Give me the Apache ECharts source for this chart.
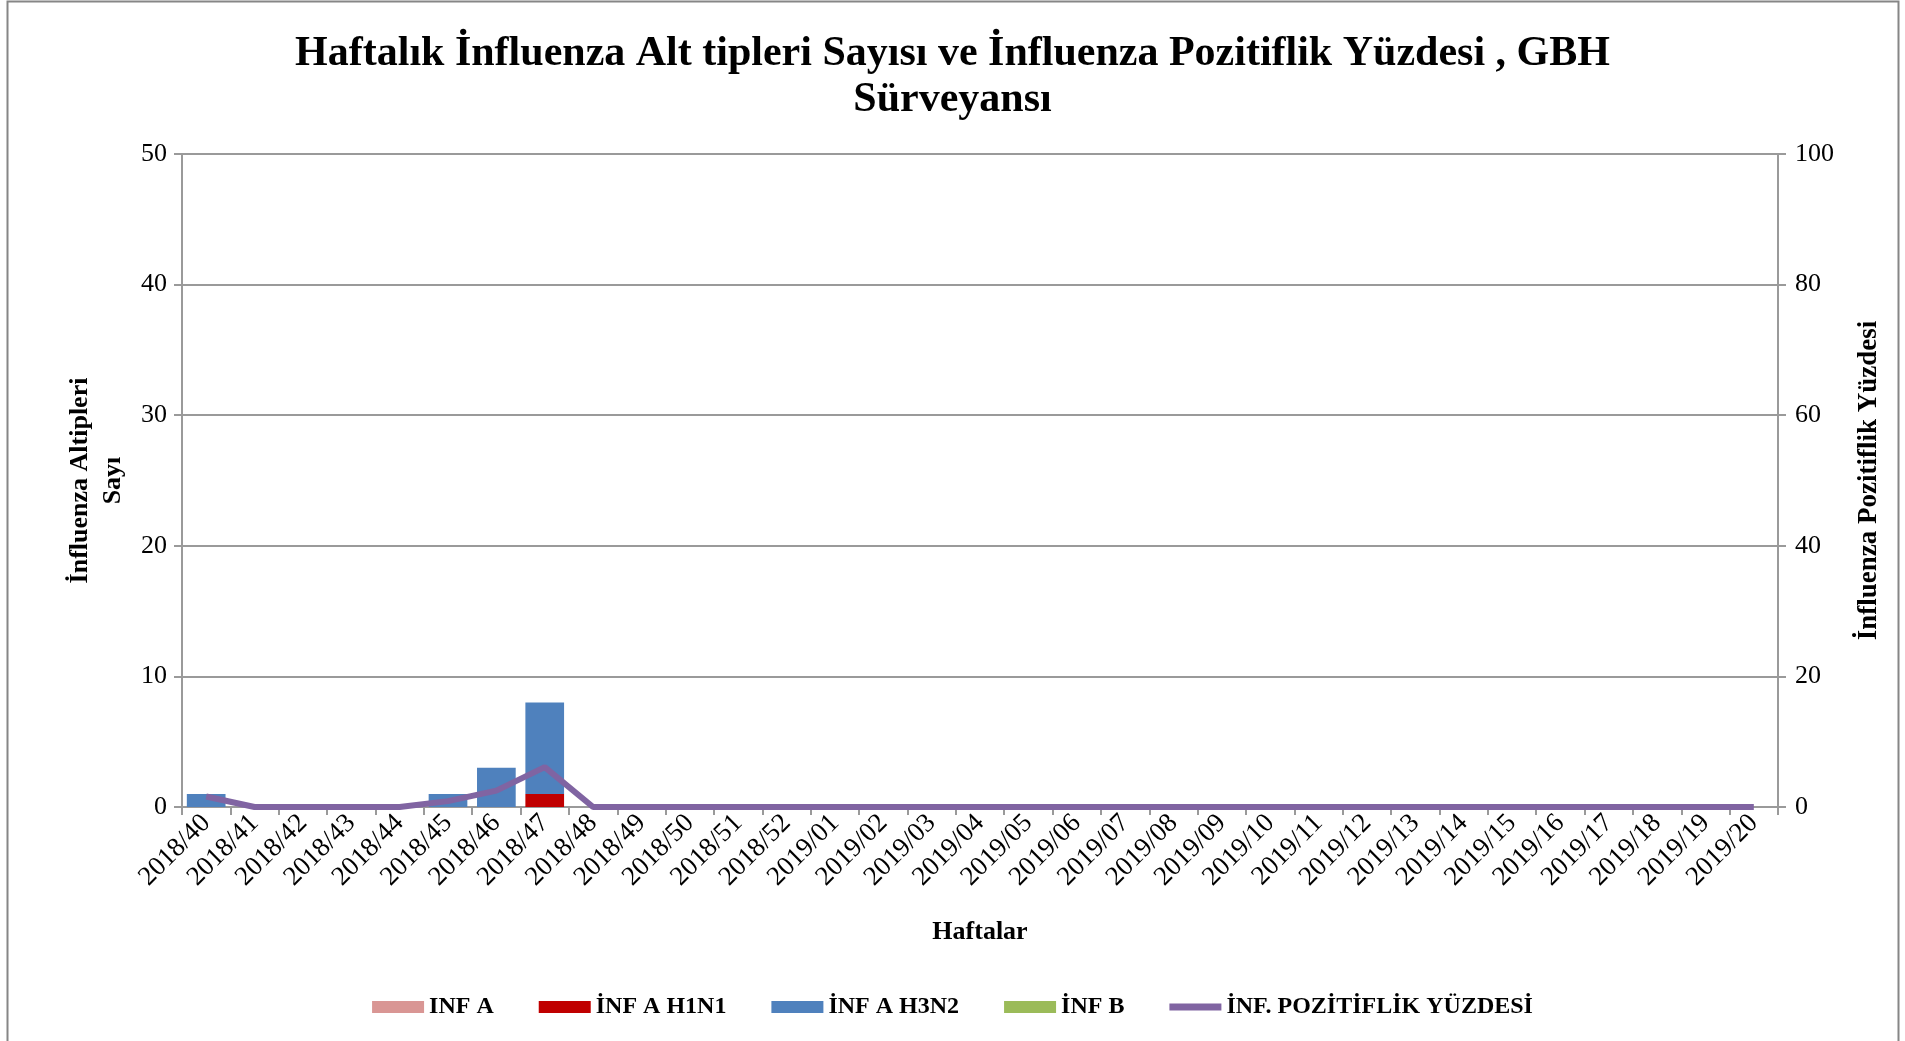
<!DOCTYPE html>
<html>
<head>
<meta charset="utf-8">
<script src="https://cdn.jsdelivr.net/npm/echarts@6/dist/echarts.min.js"></script>
<style>
html,body{margin:0;padding:0;background:#fff;}
#chart{width:1905px;height:1041px;}
</style>
</head>
<body>
<div id="chart"></div>
<script>
var weeks = ['2018/40','2018/41','2018/42','2018/43','2018/44','2018/45','2018/46','2018/47','2018/48','2018/49','2018/50','2018/51','2018/52',
  '2019/01','2019/02','2019/03','2019/04','2019/05','2019/06','2019/07','2019/08','2019/09','2019/10','2019/11','2019/12','2019/13','2019/14','2019/15','2019/16','2019/17','2019/18','2019/19','2019/20'];
var infA   = [0,0,0,0,0,0,0,0,0,0,0,0,0, 0,0,0,0,0,0,0,0,0,0,0,0,0,0,0,0,0,0,0,0];
var infH1N1= [0,0,0,0,0,0,0,1,0,0,0,0,0, 0,0,0,0,0,0,0,0,0,0,0,0,0,0,0,0,0,0,0,0];
var infH3N2= [1,0,0,0,0,1,3,7,0,0,0,0,0, 0,0,0,0,0,0,0,0,0,0,0,0,0,0,0,0,0,0,0,0];
var infB   = [0,0,0,0,0,0,0,0,0,0,0,0,0, 0,0,0,0,0,0,0,0,0,0,0,0,0,0,0,0,0,0,0,0];
var positivity = [1.6,0,0,0,0,0.9,2.5,6.1,0,0,0,0,0, 0,0,0,0,0,0,0,0,0,0,0,0,0,0,0,0,0,0,0,0];

var FONT = "'Liberation Serif','Times New Roman',serif";
var axisGray = '#9a9a9a';

var chart = echarts.init(document.getElementById('chart'));
function barSeries(name, data, color) {
  return {
    name: name, type: 'bar', stack: 'sub', data: data,
    barCategoryGap: '20%',
    itemStyle: { color: color },
    emphasis: { disabled: true }
  };
}
chart.setOption({
  animation: false,
  backgroundColor: '#fff',
  textStyle: { fontFamily: FONT, color: '#000' },
  graphic: [{
    type: 'rect', silent: true,
    shape: { x: 7.5, y: 1.5, width: 1891, height: 1100 },
    style: { fill: 'none', stroke: '#868686', lineWidth: 2 }
  }],
  title: {
    text: 'Haftalık İnfluenza Alt tipleri Sayısı ve İnfluenza Pozitiflik Yüzdesi , GBH\nSürveyansı',
    left: 'center', top: 26,
    textStyle: { fontFamily: FONT, fontSize: 42, fontWeight: 'bold', color: '#000', lineHeight: 46 }
  },
  legend: {
    bottom: 17, left: 'center',
    itemWidth: 52, itemHeight: 12, itemGap: 45,
    textStyle: { fontFamily: FONT, fontSize: 24, fontWeight: 'bold', color: '#000' },
    data: [
      { name: 'INF A', icon: 'rect' },
      { name: 'İNF A H1N1', icon: 'rect' },
      { name: 'İNF A H3N2', icon: 'rect' },
      { name: 'İNF B', icon: 'rect' },
      { name: 'İNF. POZİTİFLİK YÜZDESİ', icon: 'path://M0,0 L52,0 L52,7 L0,7 Z' }
    ]
  },
  grid: { left: 182, right: 127, top: 154, bottom: 234, containLabel: false },
  xAxis: {
    type: 'category', data: weeks,
    name: 'Haftalar', nameLocation: 'middle', nameGap: 112,
    nameTextStyle: { fontFamily: FONT, fontSize: 26, fontWeight: 'bold', color: '#000' },
    axisLine: { lineStyle: { color: axisGray, width: 2 } },
    axisTick: { show: true, length: 8, lineStyle: { color: axisGray, width: 2 } },
    axisLabel: { interval: 0, rotate: 45, fontFamily: FONT, fontSize: 27, color: '#000', margin: 12 }
  },
  yAxis: [{
    type: 'value', min: 0, max: 50, interval: 10, position: 'left',
    name: 'İnfluenza Altipleri\nSayı', nameLocation: 'middle', nameGap: 50, nameRotate: 90,
    nameTextStyle: { fontFamily: FONT, fontSize: 26, fontWeight: 'bold', color: '#000', lineHeight: 33 },
    axisLine: { show: true, lineStyle: { color: axisGray, width: 2 } },
    axisTick: { show: true, length: 8, lineStyle: { color: axisGray, width: 2 } },
    splitLine: { show: true, lineStyle: { color: axisGray, width: 2 } },
    axisLabel: { fontFamily: FONT, fontSize: 26, color: '#000', margin: 15 }
  }, {
    type: 'value', min: 0, max: 100, interval: 20, position: 'right',
    name: 'İnfluenza Pozitiflik Yüzdesi', nameLocation: 'middle', nameGap: 78, nameRotate: 90,
    nameTextStyle: { fontFamily: FONT, fontSize: 27, fontWeight: 'bold', color: '#000' },
    axisLine: { show: true, lineStyle: { color: axisGray, width: 2 } },
    axisTick: { show: true, length: 8, lineStyle: { color: axisGray, width: 2 } },
    splitLine: { show: false },
    axisLabel: { fontFamily: FONT, fontSize: 26, color: '#000', margin: 17 }
  }],
  series: [
    barSeries('INF A', infA, '#D99694'),
    barSeries('İNF A H1N1', infH1N1, '#C00000'),
    barSeries('İNF A H3N2', infH3N2, '#4F81BD'),
    barSeries('İNF B', infB, '#9BBB59'),
    {
      name: 'İNF. POZİTİFLİK YÜZDESİ', type: 'line', yAxisIndex: 1, data: positivity,
      symbol: 'none', lineStyle: { color: '#8064A2', width: 6 }, itemStyle: { color: '#8064A2' },
      emphasis: { disabled: true }, z: 5
    }
  ]
});
</script>
</body>
</html>
